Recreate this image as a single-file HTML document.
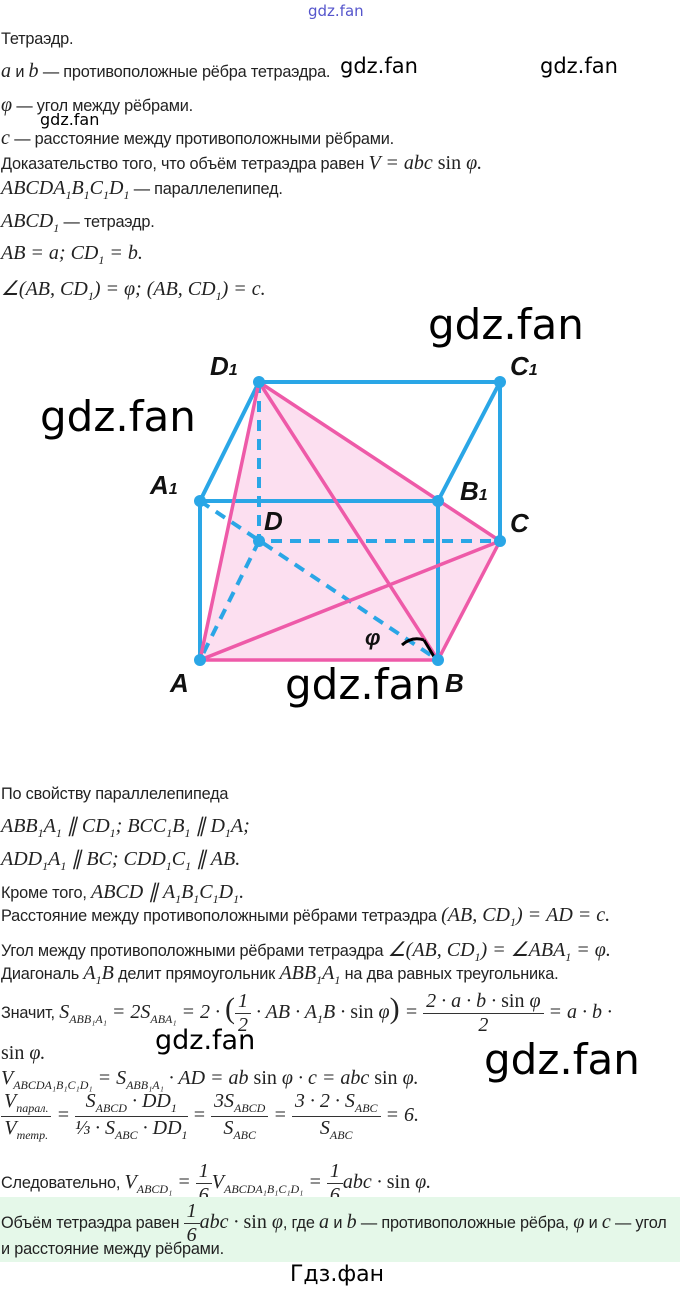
<!DOCTYPE html>
<html><head><meta charset="utf-8"><style>
body{margin:0;width:680px;height:1294px;background:#fff;position:relative;overflow:hidden;font-family:"Liberation Sans",sans-serif;color:#222}
.t{position:absolute;left:1px;font-size:16.3px;white-space:nowrap;letter-spacing:-0.2px}
.m{font-family:"Liberation Serif",serif;font-style:italic;font-size:20px;letter-spacing:0}
.n{font-style:normal}
.w{position:absolute;font-family:"DejaVu Sans",sans-serif;color:#000;white-space:nowrap}
sub{font-size:12px}
.f{display:inline-flex;flex-direction:column;vertical-align:middle;text-align:center;line-height:1.15}
.f>span:first-child{border-bottom:1px solid #333;padding:0 3px}
</style></head><body>
<div class="w" style="left:308px;top:2px;font-size:15px;color:#55c">gdz.fan</div>
<div class="t" style="top:30px">Тетраэдр.</div>
<div class="t" style="top:60px"><span class="m">a</span> и <span class="m">b</span> — противоположные рёбра тетраэдра.</div>
<div class="w" style="left:340px;top:54px;font-size:21px">gdz.fan</div>
<div class="w" style="left:540px;top:54px;font-size:21px">gdz.fan</div>
<div class="t" style="top:94px"><span class="m">φ</span> — угол между рёбрами.</div>
<div class="w" style="left:40px;top:110px;font-size:16px">gdz.fan</div>
<div class="t" style="top:127px"><span class="m">c</span> — расстояние между противоположными рёбрами.</div>
<div class="t" style="top:152px">Доказательство того, что объём тетраэдра равен <span class="m">V = abc <span class="n">sin</span> φ.</span></div>
<div class="t" style="top:177px"><span class="m">ABCDA<sub>1</sub>B<sub>1</sub>C<sub>1</sub>D<sub>1</sub></span> — параллелепипед.</div>
<div class="t" style="top:210px"><span class="m">ABCD<sub>1</sub></span> — тетраэдр.</div>
<div class="t" style="top:242px"><span class="m">AB = a; CD<sub>1</sub> = b.</span></div>
<div class="t" style="top:276px"><span class="m">∠(AB, CD<sub>1</sub>) = φ;  (AB, CD<sub>1</sub>) = c.</span></div>
<div class="w" style="left:428px;top:300px;font-size:42px">gdz.fan</div>

<svg style="position:absolute;left:0;top:0" width="680" height="780">
<polygon points="259,382 200,660 438,660 500,541" fill="#fbd7ec" opacity="0.8"/>
<g stroke="#2aa6e6" stroke-width="4" fill="none">
<path d="M259,382H500V541M500,382L438,501H200L259,382M200,501V660M438,501V660"/>
<path d="M259,382V541H500M259,541L200,660M200,501L438,660" stroke-dasharray="11,8"/>
</g>
<g stroke="#ee5aa8" stroke-width="3.5" fill="none">
<path d="M259,382L200,660H438L259,382M259,382L500,541L438,660M200,660L500,541"/>
</g>
<path d="M402,645Q412,636 424,640" stroke="#000" stroke-width="3" fill="none"/>
<path d="M424,640L436,660" stroke="#000" stroke-width="3"/>
<g fill="#2aa6e6"><circle cx="259" cy="382" r="6"/><circle cx="500" cy="382" r="6"/><circle cx="200" cy="501" r="6"/><circle cx="438" cy="501" r="6"/><circle cx="259" cy="541" r="6"/><circle cx="500" cy="541" r="6"/><circle cx="200" cy="660" r="6"/><circle cx="438" cy="660" r="6"/></g>
<g font-family="Liberation Sans" font-style="italic" font-weight="bold" font-size="26" fill="#111">
<text x="210" y="375">D<tspan font-size="16">1</tspan></text>
<text x="510" y="375">C<tspan font-size="16">1</tspan></text>
<text x="150" y="494">A<tspan font-size="16">1</tspan></text>
<text x="460" y="500">B<tspan font-size="16">1</tspan></text>
<text x="264" y="530">D</text>
<text x="510" y="532">C</text>
<text x="170" y="692">A</text>
<text x="445" y="692">B</text>
<text x="365" y="645" font-size="22">φ</text>
</g>
</svg>
<div class="w" style="left:40px;top:392px;font-size:42px">gdz.fan</div>
<div class="w" style="left:285px;top:660px;font-size:42px">gdz.fan</div>

<div class="t" style="top:785px">По свойству параллелепипеда</div>
<div class="t" style="top:813px"><span class="m">ABB<sub>1</sub>A<sub>1</sub> ∥ CD<sub>1</sub>;  BCC<sub>1</sub>B<sub>1</sub> ∥ D<sub>1</sub>A;</span></div>
<div class="t" style="top:846px"><span class="m">ADD<sub>1</sub>A<sub>1</sub> ∥ BC;  CDD<sub>1</sub>C<sub>1</sub> ∥ AB.</span></div>
<div class="t" style="top:879px">Кроме того, <span class="m">ABCD ∥ A<sub>1</sub>B<sub>1</sub>C<sub>1</sub>D<sub>1</sub>.</span></div>
<div class="t" style="top:904px">Расстояние между противоположными рёбрами тетраэдра <span class="m">(AB, CD<sub>1</sub>) = AD = c.</span></div>
<div class="t" style="top:937px">Угол между противоположными рёбрами тетраэдра <span class="m">∠(AB, CD<sub>1</sub>) = ∠ABA<sub>1</sub> = φ.</span></div>
<div class="t" style="top:962px">Диагональ <span class="m">A<sub>1</sub>B</span> делит прямоугольник <span class="m">ABB<sub>1</sub>A<sub>1</sub></span> на два равных треугольника.</div>
<div class="t" style="top:990px">Значит, <span class="m">S<sub>ABB₁A₁</sub> = 2S<sub>ABA₁</sub> = 2 · <span style="font-size:30px;font-style:normal">(</span><span class="f"><span>1</span><span>2</span></span> · AB · A<sub>1</sub>B · <span class="n">sin</span> φ<span style="font-size:30px;font-style:normal">)</span> = <span class="f"><span>2 · a · b · <span class="n">sin</span> φ</span><span>2</span></span> = a · b ·</span></div>
<div class="t" style="top:1042px"><span class="m"><span class="n">sin</span> φ.</span></div>
<div class="w" style="left:155px;top:1025px;font-size:27px">gdz.fan</div>
<div class="w" style="left:484px;top:1035px;font-size:42px">gdz.fan</div>
<div class="t" style="top:1067px"><span class="m">V<sub>ABCDA₁B₁C₁D₁</sub> = S<sub>ABB₁A₁</sub> · AD = ab <span class="n">sin</span> φ · c = abc <span class="n">sin</span> φ.</span></div>
<div class="t" style="top:1090px"><span class="m"><span class="f"><span>V<sub>парал.</sub></span><span>V<sub>тетр.</sub></span></span> = <span class="f"><span>S<sub>ABCD</sub> · DD<sub>1</sub></span><span>⅓ · S<sub>ABC</sub> · DD<sub>1</sub></span></span> = <span class="f"><span>3S<sub>ABCD</sub></span><span>S<sub>ABC</sub></span></span> = <span class="f"><span>3 · 2 · S<sub>ABC</sub></span><span>S<sub>ABC</sub></span></span> = 6.</span></div>
<div class="t" style="top:1160px">Следовательно, <span class="m">V<sub>ABCD₁</sub> = <span class="f"><span>1</span><span>6</span></span>V<sub>ABCDA₁B₁C₁D₁</sub> = <span class="f"><span>1</span><span>6</span></span>abc · <span class="n">sin</span> φ.</span></div>
<div style="position:absolute;left:0;top:1197px;width:680px;height:65px;background:#e5f8e9"></div>
<div class="t" style="top:1200px">Объём тетраэдра равен <span class="m"><span class="f"><span>1</span><span>6</span></span>abc · <span class="n">sin</span> φ</span>, где <span class="m">a</span> и <span class="m">b</span> — противоположные рёбра, <span class="m">φ</span> и <span class="m">c</span> — угол</div>
<div class="t" style="top:1240px">и расстояние между рёбрами.</div>
<div class="w" style="left:290px;top:1262px;font-size:22px">Гдз.фан</div>
</body></html>
